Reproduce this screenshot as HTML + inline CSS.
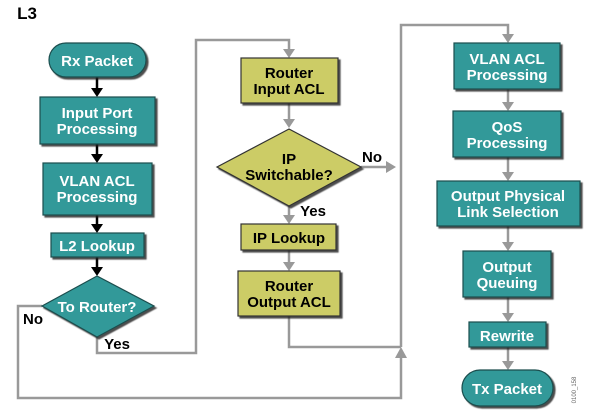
<!DOCTYPE html>
<html><head><meta charset="utf-8"><style>
body{margin:0;background:#fff}
svg{display:block}
text{font-family:"Liberation Sans",Arial,sans-serif;font-weight:bold;font-size:15px;text-anchor:middle}
.w{fill:#fff}
.k{fill:#000}
.t{fill:#339999;stroke:#1a4d4d;stroke-width:1.2}
.o{fill:#cccc66;stroke:#333;stroke-width:1.2}
.g{fill:none;stroke:#999;stroke-width:2.5}
.b{fill:none;stroke:#000;stroke-width:2.5}
</style></head><body>
<svg width="593" height="416" viewBox="0 0 593 416">
<defs>
<filter id="sh"><feDropShadow dx="2" dy="2" stdDeviation="0.5" flood-color="#222" flood-opacity="0.8"/></filter>
</defs>
<text x="27" y="19" class="k" style="font-size:17px">L3</text>

<polyline class="g" points="42,306 18,306 18,398 401,398 401,352"/>
<polygon points="395,358 407,358 401,347" fill="#999"/>
<polyline class="g" points="97,337 97,353 196,353 196,40 289,40 289,50"/>
<polygon points="283,49 295,49 289,58" fill="#999"/>
<polyline class="g" points="289,316 289,347 401,347"/>
<polyline class="g" points="401,347 401,25 508,25 508,35"/>
<polygon points="502,34 514,34 508,43" fill="#999"/>
<line class="g" x1="361" y1="167" x2="388" y2="167"/>
<polygon points="386,161 386,173 396,167" fill="#999"/>
<line class="g" x1="289" y1="103" x2="289" y2="120"/><polygon points="283,119 295,119 289,128" fill="#999"/>
<line class="g" x1="289" y1="206" x2="289" y2="216"/><polygon points="283,215 295,215 289,224" fill="#999"/>
<line class="g" x1="289" y1="250" x2="289" y2="263"/><polygon points="283,262 295,262 289,271" fill="#999"/>
<line class="g" x1="508" y1="89" x2="508" y2="103"/><polygon points="502,102 514,102 508,111" fill="#999"/>
<line class="g" x1="508" y1="157" x2="508" y2="173"/><polygon points="502,172 514,172 508,181" fill="#999"/>
<line class="g" x1="508" y1="226" x2="508" y2="243"/><polygon points="502,242 514,242 508,251" fill="#999"/>
<line class="g" x1="508" y1="297" x2="508" y2="314"/><polygon points="502,313 514,313 508,322" fill="#999"/>
<line class="g" x1="508" y1="347" x2="508" y2="362"/><polygon points="502,361 514,361 508,370" fill="#999"/>
<line class="b" x1="97" y1="77" x2="97" y2="89"/><polygon points="91,88 103,88 97,97" fill="#000"/>
<line class="b" x1="97" y1="144" x2="97" y2="155"/><polygon points="91,154 103,154 97,163" fill="#000"/>
<line class="b" x1="97" y1="215" x2="97" y2="225"/><polygon points="91,224 103,224 97,233" fill="#000"/>
<line class="b" x1="97" y1="257" x2="97" y2="268"/><polygon points="91,267 103,267 97,276" fill="#000"/>

<g filter="url(#sh)">
<rect class="t" x="49" y="43" width="97" height="34" rx="17"/>
<rect class="t" x="40" y="97" width="115" height="47"/>
<rect class="t" x="43" y="163" width="109" height="52"/>
<rect class="t" x="51" y="233" width="93" height="24"/>
<polygon class="t" points="97,276 154,306 97,337 42,306"/>
<rect class="o" x="241" y="58" width="97" height="45"/>
<polygon class="o" points="289,129 361,167 289,206 217,167"/>
<rect class="o" x="241" y="224" width="95" height="26"/>
<rect class="o" x="238" y="271" width="102" height="45"/>
<rect class="t" x="454" y="43" width="106" height="46"/>
<rect class="t" x="453" y="111" width="108" height="46"/>
<rect class="t" x="437" y="181" width="143" height="45"/>
<rect class="t" x="463" y="251" width="88" height="46"/>
<rect class="t" x="469" y="322" width="77" height="25"/>
<rect class="t" x="462" y="370" width="91" height="36" rx="18"/>
</g>

<text class="w" x="97" y="66">Rx Packet</text>
<text class="w" x="97" y="118">Input Port</text><text class="w" x="97" y="134">Processing</text>
<text class="w" x="97" y="186">VLAN ACL</text><text class="w" x="97" y="202">Processing</text>
<text class="w" x="97" y="251">L2 Lookup</text>
<text class="w" x="97" y="312">To Router?</text>
<text class="k" x="33" y="324">No</text>
<text class="k" x="117" y="349">Yes</text>

<text class="k" x="289" y="78">Router</text><text class="k" x="289" y="94">Input ACL</text>
<text class="k" x="289" y="164">IP</text><text class="k" x="289" y="180">Switchable?</text>
<text class="k" x="372" y="162">No</text>
<text class="k" x="313" y="216">Yes</text>
<text class="k" x="289" y="243">IP Lookup</text>
<text class="k" x="289" y="291">Router</text><text class="k" x="289" y="307">Output ACL</text>

<text class="w" x="507" y="64">VLAN ACL</text><text class="w" x="507" y="80">Processing</text>
<text class="w" x="507" y="132">QoS</text><text class="w" x="507" y="148">Processing</text>
<text class="w" x="508" y="201">Output Physical</text><text class="w" x="508" y="217">Link Selection</text>
<text class="w" x="507" y="272">Output</text><text class="w" x="507" y="288">Queuing</text>
<text class="w" x="507" y="341">Rewrite</text>
<text class="w" x="507" y="394">Tx Packet</text>
<text x="576" y="390" transform="rotate(-90 576 390)" style="font-size:6px;font-weight:normal;fill:#666">0100_158</text>
</svg>
</body></html>
